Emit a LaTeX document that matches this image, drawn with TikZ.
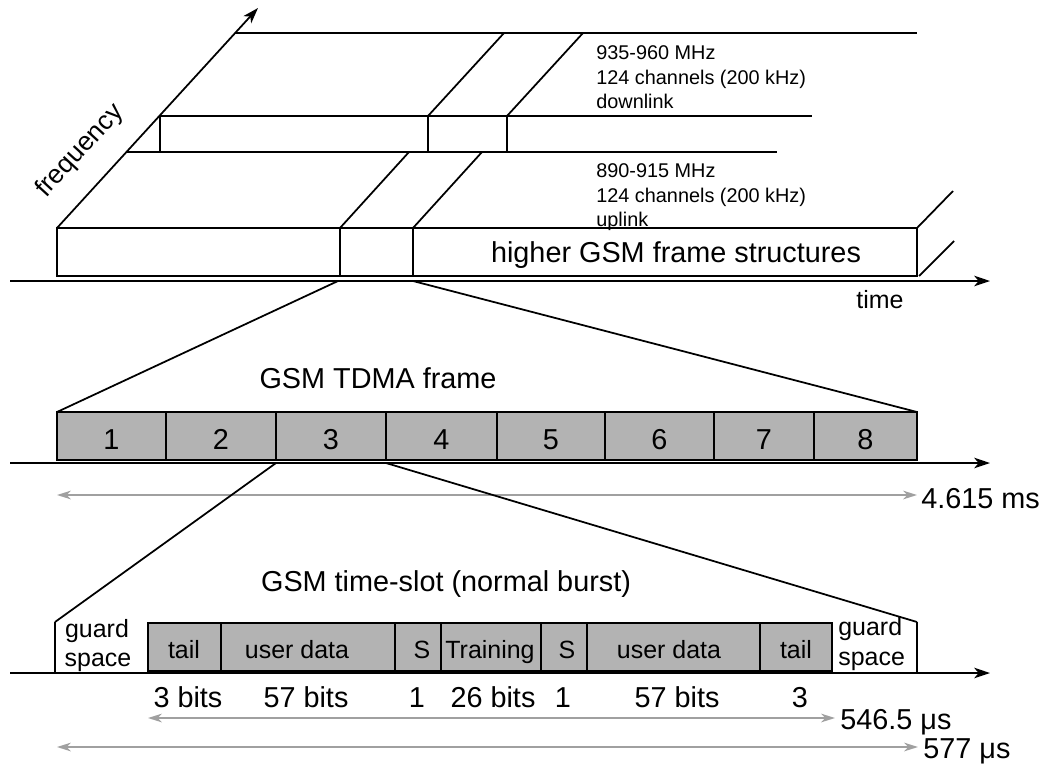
\documentclass[tikz,border=0pt]{standalone}
\usepackage{fontspec}
\setmainfont{Liberation Sans}
\usetikzlibrary{arrows.meta}
\definecolor{boxgray}{RGB}{179,179,179}
\definecolor{arrgray}{RGB}{160,160,160}
\begin{document}
\begin{tikzpicture}[x=0.02cm,y=-0.02cm,
  ln/.style={line width=1pt},
  axis/.style={line width=1pt,-{Stealth[length=9pt,width=6pt,inset=2.5pt]}},
  dim/.style={arrgray,line width=0.9pt,{Stealth[length=8pt,width=5pt,inset=2.5pt]}-{Stealth[length=8pt,width=5pt,inset=2.5pt]}},
  cell/.style={draw,line width=1pt,fill=boxgray,inner sep=0pt,outer sep=0pt,anchor=south west,minimum height=0.96cm},
  big/.style={font=\fontsize{16.4}{19}\selectfont,inner sep=0pt},
  mid/.style={font=\fontsize{14.2}{17}\selectfont,inner sep=0pt},
  small/.style={font=\fontsize{11.3}{14}\selectfont,inner sep=0pt},
]
\useasboundingbox (0,0) rectangle (1048,765);

% ---------- top: frequency / time plane ----------
\coordinate (O) at (57,228);
\coordinate (Ftip) at (258,8);
\draw[axis] (O) -- (Ftip);
\node[font=\fontsize{15}{18}\selectfont,rotate=47.6] (freq) at (80,151) {frequency};

\draw[ln] (235,33) -- (917,33);
\draw[ln] (160,116) -- (812,116);
\draw[ln] (127,152) -- (777,152);
\draw[ln] (160,116) -- (160,152) (428,116) -- (428,152) (507,116) -- (507,152);
\draw[ln] (428,116) -- (504,33) (507,116) -- (583,33);
\draw[ln] (340,228) -- (409,152) (413,228) -- (482,152);

\node[small,anchor=base west] (dl1) at (596,59) {935-960 MHz};
\node[small,anchor=base west] (dl2) at (596,84) {124 channels (200 kHz)};
\node[small,anchor=base west] (dl3) at (596,108) {downlink};
\node[small,anchor=base west] (ul1) at (596,177) {890-915 MHz};
\node[small,anchor=base west] (ul2) at (596,202) {124 channels (200 kHz)};
\node[small,anchor=base west] (ul3) at (596,226) {uplink};

\draw[ln] (57,228) rectangle (917,276);
\draw[ln] (340,228) -- (340,276) (413,228) -- (413,276);
\draw[ln] (917,228) -- (953,191) (919,276) -- (954,241);
\node[big,anchor=base] (hgsm) at (676,262) {higher GSM frame structures};

\coordinate (t1s) at (10,281);
\coordinate (t1e) at (990,281);
\draw[axis] (t1s) -- (t1e);
\node[mid,anchor=base] (time) at (880,308) {time};

\coordinate (zl1) at (338,281);
\coordinate (zr1) at (413,281);

% ---------- middle: TDMA frame ----------
\node[big,anchor=base] (tdma) at (378,388) {GSM TDMA frame};
\foreach \a/\b/\t [count=\i] in {57/166/1,166/276/2,276/386/3,386/497/4,497/605/5,605/714/6,714/814/7,814/917/8}{
  \node[cell,minimum width={(\b-\a)*0.02cm}] (f\i) at (\a,460) {};
  \node[big,anchor=base] (fl\i) at ({(\a+\b)/2},449) {\t};
}
\draw[ln] (zl1) -- (f1.north west);
\draw[ln] (zr1) -- (f8.north east);

\coordinate (t2s) at (10,463);
\coordinate (t2e) at (990,463);
\draw[axis] (t2s) -- (t2e);

\coordinate (d1a) at (57,495);
\coordinate (d1b) at (917,495);
\draw[dim] (d1a) -- (d1b);
\node[big,anchor=base west] (ms) at (921,508) {4.615 ms};

\coordinate (zl2) at (276,463);
\coordinate (zr2) at (386,463);

% ---------- bottom: time slot ----------
\node[big,anchor=base] (slot) at (446,591) {GSM time-slot (normal burst)};
\coordinate (gl) at (55,622);
\coordinate (gr) at (917,622);
\draw[ln] (gl) -- (55,672);
\draw[ln] (gr) -- (917,672);
\draw[ln] (zl2) -- (gl);
\draw[ln] (zr2) -- (gr);

\foreach \a/\b/\t/\c [count=\i] in {148/221/tail/184,221/395/user data/297,395/441/S/422,441/541/Training/490,541/587/S/567,587/760/user data/669,760/832/tail/796}{
  \node[cell,minimum width={(\b-\a)*0.02cm}] (s\i) at (\a,671) {};
  \node[mid,anchor=base] (sl\i) at (\c,658) {\t};
}

\node[mid,anchor=base] (g1a) at (97,637) {guard};
\node[mid,anchor=base] (g1b) at (98,666) {space};
\node[mid,anchor=base west] (g2a) at (838,635) {guard};
\node[mid,anchor=base west] (g2b) at (838,665) {space};

\coordinate (t3s) at (10,673);
\coordinate (t3e) at (990,673);
\draw[axis] (t3s) -- (t3e);

\foreach \x/\t [count=\i] in {188/3 bits,306/57 bits,417/1,493/26 bits,563/1,677/57 bits,800/3}{
  \node[big,anchor=base] (bl\i) at (\x,707) {\t};
}

\coordinate (d2a) at (148,718);
\coordinate (d2b) at (835,718);
\draw[dim] (d2a) -- (d2b);
\node[big,anchor=base west] (us1) at (840,729) {546.5 μs};

\coordinate (d3a) at (57,747);
\coordinate (d3b) at (918,747);
\draw[dim] (d3a) -- (d3b);
\node[big,anchor=base west] (us2) at (923,758) {577 μs};
\end{tikzpicture}
\end{document}
